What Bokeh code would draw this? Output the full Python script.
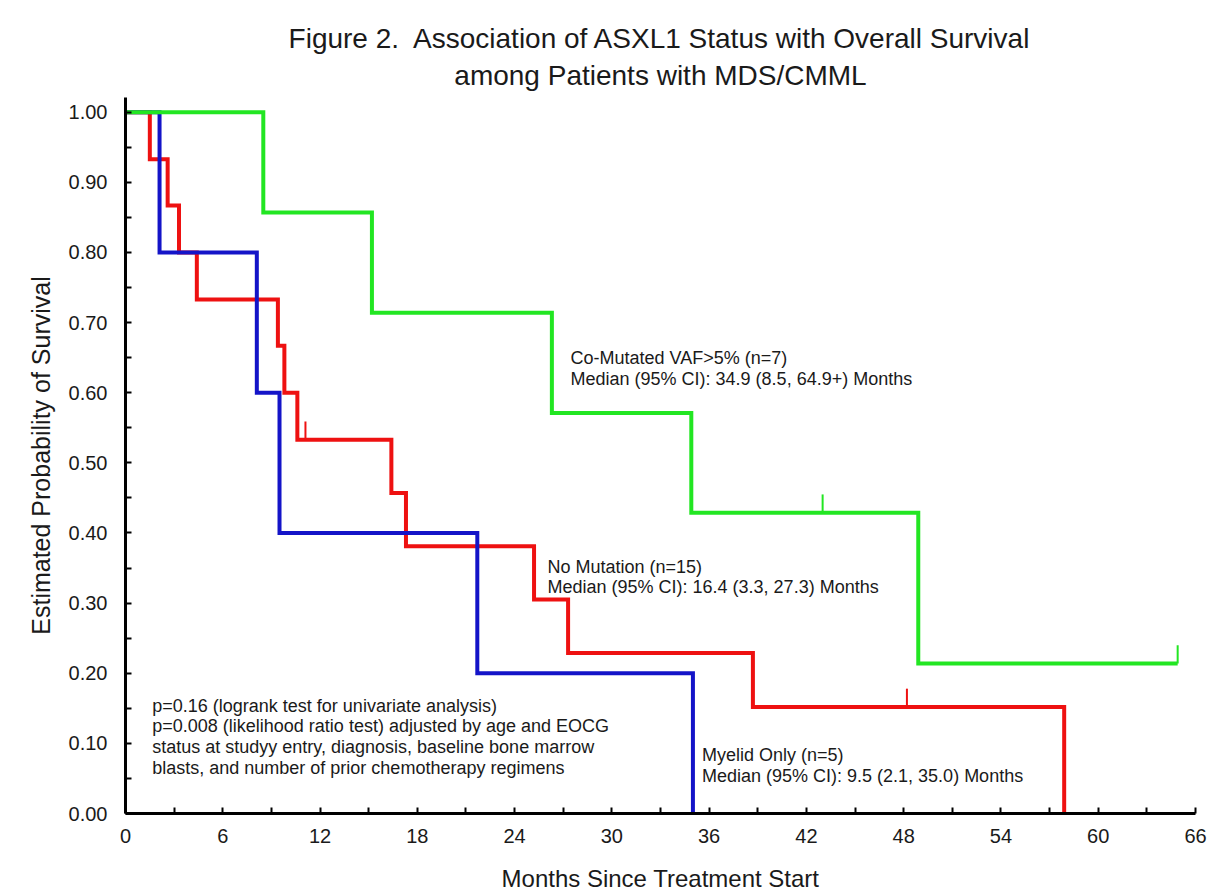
from bokeh.plotting import figure
from bokeh.models import Range1d, FixedTicker, NumeralTickFormatter, Label, Title
from bokeh.embed import file_html
from bokeh.resources import INLINE

# ---------------- data ----------------
title_lines = ["Figure 2.  Association of ASXL1 Status with Overall Survival",
               "among Patients with MDS/CMML"]
x_axis_label = "Months Since Treatment Start"
y_axis_label = "Estimated Probability of Survival"

x_ticks = [0, 6, 12, 18, 24, 30, 36, 42, 48, 54, 60, 66]
x_minor_ticks = [3, 9, 15, 21, 27, 33, 39, 45, 51, 57, 63]
y_ticks = [0.0, 0.1, 0.2, 0.3, 0.4, 0.5, 0.6, 0.7, 0.8, 0.9, 1.0]
y_minor_ticks = [0.05, 0.15, 0.25, 0.35, 0.45, 0.55, 0.65, 0.75, 0.85, 0.95]

# Co-Mutated VAF>5% (n=7)
comut_t = [0.0, 8.5, 15.2, 26.3, 34.9, 48.9, 64.9]
comut_s = [1.0, 0.857, 0.714, 0.571, 0.429, 0.214, 0.214]
comut_cens_t = [43.0, 64.9]
comut_cens_s = [0.429, 0.214]

# No Mutation (n=15)
nomut_t = [0.0, 1.5, 2.6, 3.3, 4.4, 9.4, 9.8, 10.6, 16.4, 17.3, 25.2, 27.3, 38.7, 57.9]
nomut_s = [1.0, 0.933, 0.867, 0.800, 0.733, 0.667, 0.600, 0.533, 0.457, 0.381, 0.305, 0.229, 0.152, 0.0]
nomut_cens_t = [11.1, 48.2]
nomut_cens_s = [0.533, 0.152]

# Myelid Only (n=5)
myelid_t = [0.0, 2.1, 8.1, 9.5, 21.7, 35.0]
myelid_s = [1.0, 0.8, 0.6, 0.4, 0.2, 0.0]

annot_comut = ["Co-Mutated VAF>5% (n=7)", "Median (95% CI): 34.9 (8.5, 64.9+) Months"]
annot_nomut = ["No Mutation (n=15)", "Median (95% CI): 16.4 (3.3, 27.3) Months"]
annot_myelid = ["Myelid Only (n=5)", "Median (95% CI): 9.5 (2.1, 35.0) Months"]
pvalue_lines = ["p=0.16 (logrank test for univariate analysis)",
                "p=0.008 (likelihood ratio test) adjusted by age and EOCG",
                "status at studyy entry, diagnosis, baseline bone marrow",
                "blasts, and number of prior chemotherapy regimens"]

# ---------------- styling ----------------
FONT = "Liberation Sans"
TXT = "#1a1a1a"
GREEN = "#22e622"
RED = "#ee1111"
BLUE = "#1414c8"

# the figure's own title is the outer (top) line; the added Title sits next to the frame
p = figure(frame_width=1070, frame_height=716,
           min_border_left=125, min_border_top=97, min_border_right=20, min_border_bottom=82,
           x_range=Range1d(0, 66), y_range=Range1d(0, 1.021),
           title=title_lines[0].replace("  ", "\u00a0 "),
           output_backend="svg", toolbar_location=None, tools="")
p.title.text_font = FONT
p.title.text_font_size = "28px"
p.title.text_font_style = "normal"
p.title.text_color = TXT
p.title.align = "center"
p.title.vertical_align = "top"
p.title.offset = -7
p.title.standoff = 0
p.add_layout(Title(text=title_lines[1], text_font=FONT, text_font_size="28px",
                   text_font_style="normal", text_color=TXT, align="center",
                   vertical_align="top", offset=-7, standoff=9), "above")

p.outline_line_color = None
p.xgrid.visible = False
p.ygrid.visible = False
p.background_fill_color = "white"
p.border_fill_color = "white"

for ax in (p.xaxis[0], p.yaxis[0]):
    ax.axis_line_width = 3
    ax.axis_line_color = "black"
    ax.major_tick_line_width = 2
    ax.minor_tick_line_width = 2
    ax.major_tick_line_color = "black"
    ax.minor_tick_line_color = "black"
    ax.major_tick_in = 6
    ax.major_tick_out = 0
    ax.minor_tick_in = 6
    ax.minor_tick_out = 0
    ax.major_label_text_font = FONT
    ax.major_label_text_font_size = "20px"
    ax.major_label_text_color = TXT
    ax.axis_label_text_font = FONT
    ax.axis_label_text_font_style = "normal"
    ax.axis_label_text_color = TXT

p.xaxis.ticker = FixedTicker(ticks=x_ticks, minor_ticks=x_minor_ticks)
p.yaxis.ticker = FixedTicker(ticks=y_ticks, minor_ticks=y_minor_ticks)
p.yaxis.formatter = NumeralTickFormatter(format="0.00")
p.xaxis.axis_label = x_axis_label
p.yaxis.axis_label = y_axis_label
p.xaxis.axis_label_text_font_size = "24px"
p.yaxis.axis_label_text_font_size = "25px"
p.xaxis.major_label_standoff = 15
p.yaxis.major_label_standoff = 18
p.xaxis.axis_label_standoff = 19
p.yaxis.axis_label_standoff = 11

# ---------------- curves ----------------
p.step(nomut_t, nomut_s, mode="after", line_color=RED, line_width=4, line_join="miter")
p.segment(x0=nomut_cens_t, y0=nomut_cens_s, x1=nomut_cens_t,
          y1=[v + 0.026 for v in nomut_cens_s], line_color=RED, line_width=2)
p.step(myelid_t, myelid_s, mode="after", line_color=BLUE, line_width=4, line_join="miter")
p.step(comut_t, comut_s, mode="after", line_color=GREEN, line_width=4, line_join="miter")
p.segment(x0=comut_cens_t, y0=comut_cens_s, x1=comut_cens_t,
          y1=[v + 0.026 for v in comut_cens_s], line_color=GREEN, line_width=2)

# ---------------- texts ----------------
def add_block(lines, x, y0, dy=0.0295, size="18px"):
    for i, t in enumerate(lines):
        p.add_layout(Label(x=x, y=y0 - i * dy, text=t, text_font=FONT, text_font_size=size,
                           text_color=TXT, text_baseline="alphabetic", text_align="left"))

add_block(annot_comut, 27.45, 0.649)
add_block(annot_nomut, 26.03, 0.352)
add_block(annot_myelid, 35.56, 0.083)
add_block(pvalue_lines, 1.65, 0.154)

open("out.html", "w").write(file_html(p, INLINE))
